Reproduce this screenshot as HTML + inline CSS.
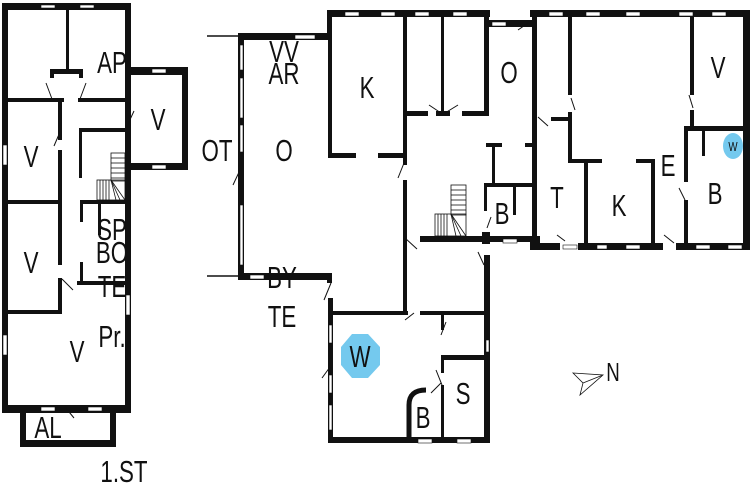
<!DOCTYPE html>
<html><head><meta charset="utf-8"><style>
html,body{margin:0;padding:0;background:#fff;width:750px;height:500px;overflow:hidden}
svg{display:block}
text{font-family:"Liberation Sans",sans-serif;fill:#111;text-anchor:middle}
</style></head><body>
<svg width="750" height="500" viewBox="0 0 750 500">
<g fill="#111">
<rect x="2" y="3" width="129" height="7"/>
<rect x="2" y="3" width="6" height="410"/>
<rect x="125" y="3" width="6" height="410"/>
<rect x="2" y="405" width="129" height="8"/>
<rect x="128" y="67" width="60" height="8"/>
<rect x="182" y="67" width="6" height="103"/>
<rect x="128" y="163" width="60" height="7"/>
<rect x="20" y="410" width="6" height="37"/>
<rect x="110" y="410" width="6" height="37"/>
<rect x="20" y="440" width="96" height="7"/>
<rect x="66" y="3" width="3" height="68"/>
<rect x="50" y="69" width="33" height="5"/>
<rect x="50" y="69" width="4" height="9"/>
<rect x="79" y="69" width="4" height="9"/>
<rect x="4" y="98" width="60" height="4"/>
<rect x="78" y="98" width="50" height="4"/>
<rect x="58" y="100" width="4" height="40"/>
<rect x="58" y="150" width="4" height="115"/>
<rect x="58" y="278" width="4" height="35"/>
<rect x="4" y="200" width="58" height="4"/>
<rect x="4" y="310" width="58" height="4"/>
<rect x="79" y="128" width="3" height="50"/>
<rect x="79" y="128" width="49" height="4"/>
<rect x="80" y="200" width="48" height="4"/>
<rect x="80" y="200" width="3" height="22"/>
<rect x="98" y="200" width="3" height="35"/>
<rect x="77" y="281" width="51" height="4"/>
<rect x="80" y="262" width="3" height="22"/>
<rect x="238" y="33" width="94" height="7"/>
<rect x="238" y="33" width="6" height="247"/>
<rect x="238" y="273" width="94" height="7"/>
<rect x="327" y="273" width="5" height="10"/>
<rect x="327" y="10" width="163" height="7"/>
<rect x="327" y="10" width="5" height="30"/>
<rect x="328" y="17" width="4" height="141"/>
<rect x="328" y="153" width="28" height="5"/>
<rect x="378" y="153" width="29" height="5"/>
<rect x="403" y="17" width="4" height="148"/>
<rect x="403" y="180" width="4" height="132"/>
<rect x="441" y="17" width="3" height="98"/>
<rect x="405" y="111" width="23" height="5"/>
<rect x="436" y="111" width="14" height="5"/>
<rect x="462" y="111" width="26" height="5"/>
<rect x="484" y="10" width="5" height="106"/>
<rect x="484" y="20" width="50" height="7"/>
<rect x="532" y="10" width="5" height="238"/>
<rect x="486" y="143" width="16" height="4"/>
<rect x="492" y="143" width="3" height="40"/>
<rect x="525" y="143" width="10" height="4"/>
<rect x="484" y="183" width="52" height="4"/>
<rect x="484" y="183" width="3" height="28"/>
<rect x="513" y="187" width="3" height="28"/>
<rect x="420" y="236" width="116" height="6"/>
<rect x="482" y="232" width="8" height="12"/>
<rect x="530" y="236" width="10" height="12"/>
<rect x="530" y="10" width="220" height="7"/>
<rect x="743" y="10" width="7" height="240"/>
<rect x="530" y="243" width="30" height="7"/>
<rect x="578" y="243" width="85" height="7"/>
<rect x="676" y="243" width="74" height="7"/>
<rect x="568" y="17" width="4" height="78"/>
<rect x="568" y="112" width="4" height="50"/>
<rect x="551" y="117" width="20" height="4"/>
<rect x="568" y="159" width="34" height="4"/>
<rect x="636" y="159" width="18" height="4"/>
<rect x="584" y="159" width="4" height="89"/>
<rect x="651" y="159" width="4" height="89"/>
<rect x="690" y="17" width="4" height="78"/>
<rect x="690" y="110" width="4" height="20"/>
<rect x="684" y="126" width="66" height="5"/>
<rect x="684" y="126" width="4" height="56"/>
<rect x="684" y="200" width="4" height="47"/>
<rect x="702" y="131" width="3" height="25"/>
<rect x="328" y="298" width="5" height="145"/>
<rect x="328" y="311" width="80" height="4"/>
<rect x="420" y="311" width="68" height="4"/>
<rect x="484" y="255" width="6" height="188"/>
<rect x="328" y="437" width="162" height="6"/>
<rect x="441" y="315" width="3" height="15"/>
<rect x="441" y="355" width="3" height="18"/>
<rect x="441" y="385" width="3" height="55"/>
<rect x="441" y="355" width="47" height="5"/>
</g>
<line x1="207" y1="36" x2="238" y2="36" stroke="#111" stroke-width="1.5"/>
<line x1="207" y1="276" x2="238" y2="276" stroke="#111" stroke-width="1.5"/>
<path d="M409,437 L409,405 Q409,390 426,390" fill="none" stroke="#111" stroke-width="5"/>
<g fill="#fff" stroke="#111" stroke-width="0.6">
<rect x="41" y="5" width="14" height="3"/><rect x="80" y="5" width="14" height="3"/>
<rect x="152" y="69" width="14" height="4"/><rect x="152" y="165" width="14" height="4"/>
<rect x="3" y="145" width="4" height="20"/><rect x="3" y="335" width="4" height="20"/>
<rect x="126" y="295" width="4" height="20"/>
<rect x="41" y="407" width="14" height="4"/><rect x="88" y="407" width="14" height="4"/>
<rect x="295" y="35" width="20" height="4"/><rect x="250" y="275" width="14" height="4"/>
<rect x="240" y="45" width="3" height="25"/><rect x="240" y="78" width="3" height="40"/><rect x="240" y="125" width="3" height="27"/><rect x="240" y="205" width="3" height="60"/>
<rect x="345" y="12" width="14" height="4"/><rect x="381" y="12" width="14" height="4"/><rect x="415" y="12" width="14" height="4"/><rect x="453" y="12" width="14" height="4"/>
<rect x="492" y="22" width="14" height="4"/><rect x="503" y="239" width="14" height="4"/>
<rect x="549" y="12" width="14" height="4"/><rect x="586" y="12" width="14" height="4"/><rect x="626" y="12" width="14" height="4"/><rect x="679" y="12" width="14" height="4"/><rect x="712" y="12" width="14" height="4"/>
<rect x="563" y="245" width="14" height="4"/><rect x="597" y="245" width="10" height="4"/><rect x="626" y="245" width="14" height="4"/><rect x="696" y="245" width="14" height="4"/><rect x="728" y="245" width="14" height="4"/>
<rect x="329" y="325" width="3" height="18"/><rect x="329" y="375" width="3" height="18"/><rect x="329" y="405" width="3" height="25"/>
<rect x="486" y="340" width="3" height="12"/>
<rect x="418" y="439" width="14" height="4"/><rect x="457" y="439" width="14" height="4"/>
</g>
<g stroke="#111" stroke-width="1" fill="none">
<line x1="46" y1="83" x2="52" y2="99"/><line x1="86" y1="83" x2="80" y2="99"/>
<line x1="134" y1="111" x2="127" y2="126"/><line x1="60" y1="132" x2="54" y2="146"/>
<line x1="62" y1="279" x2="73" y2="290"/><line x1="65" y1="407" x2="74" y2="418"/>
<line x1="240" y1="170" x2="233" y2="185"/><line x1="404" y1="163" x2="398" y2="178"/>
<line x1="429" y1="105" x2="441" y2="113"/><line x1="458" y1="105" x2="445" y2="113"/>
<line x1="405" y1="238" x2="417" y2="249"/><line x1="478" y1="252" x2="484" y2="265"/>
<line x1="331" y1="283" x2="324" y2="300"/><line x1="405" y1="320" x2="414" y2="313"/>
<line x1="446" y1="322" x2="441" y2="335"/><line x1="436" y1="370" x2="442" y2="385"/>
<line x1="431" y1="393" x2="441" y2="383"/><line x1="330" y1="367" x2="322" y2="378"/>
<line x1="491" y1="217" x2="487" y2="228"/>
<line x1="538" y1="117" x2="548" y2="126"/><line x1="571" y1="98" x2="575" y2="110"/>
<line x1="689" y1="95" x2="693" y2="108"/><line x1="679" y1="188" x2="685" y2="200"/>
<line x1="565" y1="241" x2="557" y2="235"/><line x1="664" y1="235" x2="674" y2="243"/>
<line x1="518" y1="30" x2="528" y2="23"/>
</g>
<g stroke="#111" stroke-width="0.8" fill="none">
<rect x="111" y="153" width="14" height="28"/>
<line x1="111" y1="158" x2="125" y2="158"/><line x1="111" y1="163" x2="125" y2="163"/><line x1="111" y1="168" x2="125" y2="168"/><line x1="111" y1="173" x2="125" y2="173"/><line x1="111" y1="178" x2="125" y2="178"/>
<rect x="97" y="180" width="28" height="20"/>
<line x1="100" y1="180" x2="100" y2="200"/><line x1="103" y1="180" x2="103" y2="200"/><line x1="106" y1="180" x2="106" y2="200"/><line x1="109" y1="180" x2="109" y2="200"/>
<line x1="111" y1="180" x2="125" y2="200"/><line x1="111" y1="180" x2="120" y2="200"/><line x1="111" y1="180" x2="116" y2="200"/>
<rect x="451" y="185" width="15" height="30"/>
<line x1="451" y1="190" x2="466" y2="190"/><line x1="451" y1="195" x2="466" y2="195"/><line x1="451" y1="200" x2="466" y2="200"/><line x1="451" y1="205" x2="466" y2="205"/><line x1="451" y1="210" x2="466" y2="210"/>
<rect x="435" y="214" width="31" height="22"/>
<line x1="438" y1="214" x2="438" y2="236"/><line x1="441" y1="214" x2="441" y2="236"/><line x1="444" y1="214" x2="444" y2="236"/><line x1="447" y1="214" x2="447" y2="236"/>
<line x1="451" y1="214" x2="466" y2="236"/><line x1="451" y1="214" x2="461" y2="236"/><line x1="451" y1="214" x2="456" y2="236"/>
<path d="M573,373 L603,375 L580,395 L583,383 Z M583,383 L603,375"/>
</g>
<polygon points="352,334 368,334 380,347 380,365 368,378 352,378 341,365 341,347" fill="#74c9ee"/>
<ellipse cx="733" cy="146" rx="10" ry="13" fill="#74c9ee"/>
<g font-size="31">
<text transform="translate(112,73) scale(0.72,1)">AP</text>
<text transform="translate(158,130) scale(0.72,1)">V</text>
<text transform="translate(31,167) scale(0.72,1)">V</text>
<text transform="translate(31,273) scale(0.72,1)">V</text>
<text transform="translate(112,240) scale(0.72,1)">SP</text>
<text transform="translate(112,263) scale(0.72,1)">BO</text>
<text transform="translate(112,297) scale(0.72,1)">TE</text>
<text transform="translate(112,347) scale(0.72,1)">Pr.</text>
<text transform="translate(77,362) scale(0.72,1)">V</text>
<text transform="translate(48,438) scale(0.72,1)">AL</text>
<text transform="translate(124,482) scale(0.72,1)">1.ST</text>
<text transform="translate(217,161) scale(0.72,1)">OT</text>
<text transform="translate(284,161) scale(0.72,1)">O</text>
<text transform="translate(284,62) scale(0.72,1)">VV</text>
<text transform="translate(284,84) scale(0.72,1)">AR</text>
<text transform="translate(367,98) scale(0.72,1)">K</text>
<text transform="translate(509,83) scale(0.72,1)">O</text>
<text transform="translate(502,224) scale(0.72,1)">B</text>
<text transform="translate(557,208) scale(0.72,1)">T</text>
<text transform="translate(619,216) scale(0.72,1)">K</text>
<text transform="translate(668,176) scale(0.72,1)">E</text>
<text transform="translate(715,204) scale(0.72,1)">B</text>
<text transform="translate(718,78) scale(0.72,1)">V</text>
<text transform="translate(282,288) scale(0.72,1)">BY</text>
<text transform="translate(282,327) scale(0.72,1)">TE</text>
<text transform="translate(360,367) scale(0.72,1)">W</text>
<text transform="translate(463,404) scale(0.72,1)">S</text>
<text transform="translate(423,428) scale(0.72,1)">B</text>
<text transform="translate(613,381) scale(0.72,1)" font-size="26">N</text>
</g>
<text transform="translate(733,151) scale(0.75,1)" font-size="13">W</text>
</svg>
</body></html>
